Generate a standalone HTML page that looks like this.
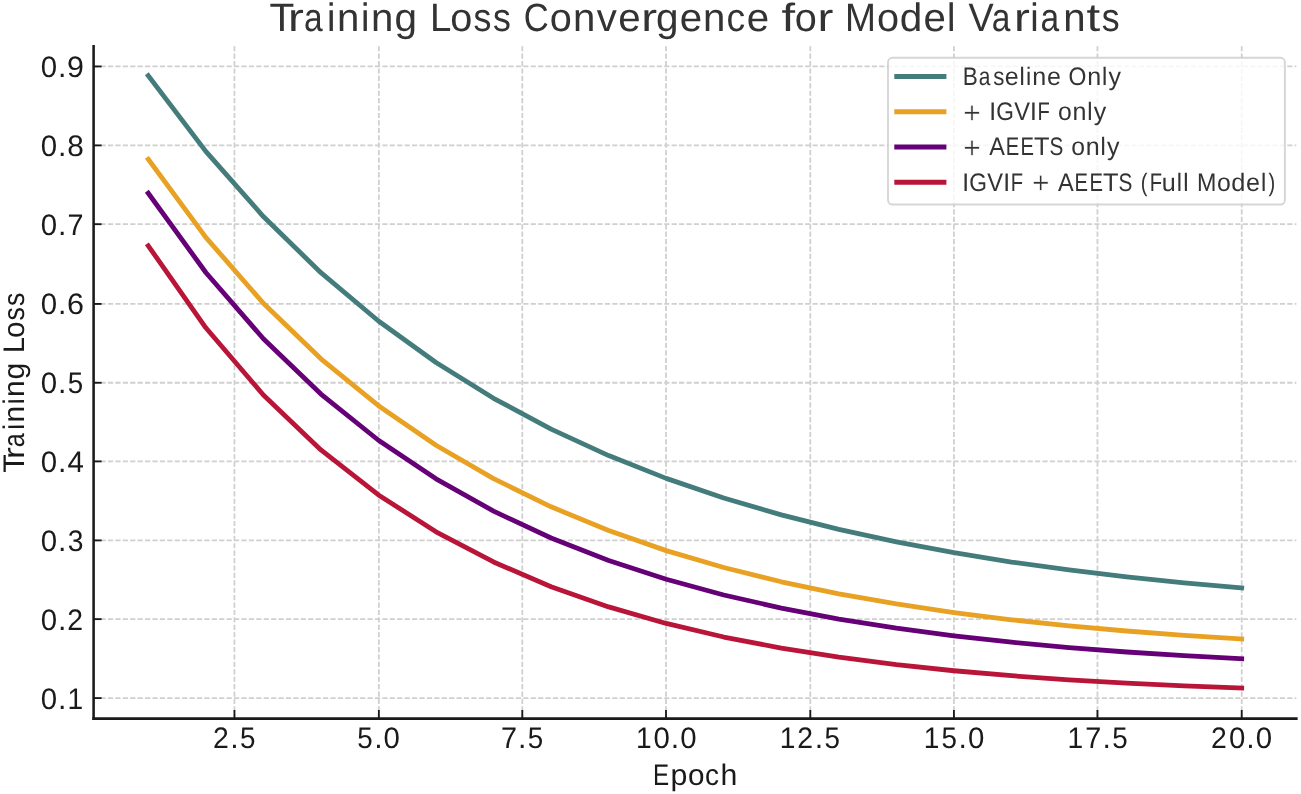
<!DOCTYPE html><html><head><meta charset="utf-8"><style>html,body{margin:0;padding:0;background:#fff;}svg{display:block;will-change:transform;}text{font-family:"Liberation Sans",sans-serif;}</style></head><body>
<svg width="1301" height="794" viewBox="0 0 1301 794">
<rect width="1301" height="794" fill="#fff"/>
<g stroke="#d0d0d0" stroke-width="1.8" stroke-dasharray="5.177 2.24" stroke-dashoffset="0.5" fill="none"><line x1="93.6" y1="698.1" x2="1296.36" y2="698.1"/><line x1="93.6" y1="619.14" x2="1296.36" y2="619.14"/><line x1="93.6" y1="540.4" x2="1296.36" y2="540.4"/><line x1="93.6" y1="461.4" x2="1296.36" y2="461.4"/><line x1="93.6" y1="382.76" x2="1296.36" y2="382.76"/><line x1="93.6" y1="303.94" x2="1296.36" y2="303.94"/><line x1="93.6" y1="224.19" x2="1296.36" y2="224.19"/><line x1="93.6" y1="145.4" x2="1296.36" y2="145.4"/><line x1="93.6" y1="66.46" x2="1296.36" y2="66.46"/></g>
<g stroke="#d0d0d0" stroke-width="1.8" stroke-dasharray="5.177 2.24" stroke-dashoffset="0.3" fill="none"><line x1="234.45" y1="718.6" x2="234.45" y2="46.3"/><line x1="378.85" y1="718.6" x2="378.85" y2="46.3"/><line x1="522.3" y1="718.6" x2="522.3" y2="46.3"/><line x1="666" y1="718.6" x2="666" y2="46.3"/><line x1="810.3" y1="718.6" x2="810.3" y2="46.3"/><line x1="953.93" y1="718.6" x2="953.93" y2="46.3"/><line x1="1097.45" y1="718.6" x2="1097.45" y2="46.3"/><line x1="1241.72" y1="718.6" x2="1241.72" y2="46.3"/></g>
<polyline points="148.27,75.7 205.82,151.42 263.37,216.59 320.92,272.69 378.47,320.97 436.01,362.52 493.56,398.29 551.11,429.07 608.66,455.57 666.21,478.38 723.75,498.01 781.3,514.9 838.85,529.44 896.4,541.96 953.95,552.73 1011.49,562.01 1069.04,569.99 1126.59,576.86 1184.14,582.77 1241.68,587.86" fill="none" stroke="#447c7c" stroke-width="4.8" stroke-linecap="square" stroke-linejoin="round"/>
<polyline points="148.27,159.24 205.82,237.33 263.37,303.22 320.92,358.81 378.47,405.7 436.01,445.27 493.56,478.64 551.11,506.81 608.66,530.56 666.21,550.61 723.75,567.52 781.3,581.78 838.85,593.82 896.4,603.98 953.95,612.54 1011.49,619.77 1069.04,625.87 1126.59,631.01 1184.14,635.35 1241.68,639.01" fill="none" stroke="#e8a122" stroke-width="4.8" stroke-linecap="square" stroke-linejoin="round"/>
<polyline points="148.27,193.19 205.82,272.48 263.37,338.72 320.92,394.04 378.47,440.25 436.01,478.85 493.56,511.09 551.11,538.02 608.66,560.51 666.21,579.3 723.75,594.99 781.3,608.1 838.85,619.05 896.4,628.19 953.95,635.83 1011.49,642.21 1069.04,647.54 1126.59,651.99 1184.14,655.71 1241.68,658.82" fill="none" stroke="#660077" stroke-width="4.8" stroke-linecap="square" stroke-linejoin="round"/>
<polyline points="148.27,245.79 205.82,327.81 263.37,394.96 320.92,449.94 378.47,494.95 436.01,531.8 493.56,561.97 551.11,586.67 608.66,606.9 666.21,623.46 723.75,637.02 781.3,648.12 838.85,657.2 896.4,664.64 953.95,670.74 1011.49,675.72 1069.04,679.81 1126.59,683.15 1184.14,685.89 1241.68,688.13" fill="none" stroke="#b91538" stroke-width="4.8" stroke-linecap="square" stroke-linejoin="round"/>
<g stroke="#1a1a1a" stroke-width="2.55" fill="none">
<line x1="93.6" y1="46.3" x2="93.6" y2="718.6" stroke-linecap="square"/>
<line x1="93.6" y1="718.6" x2="1296.36" y2="718.6" stroke-linecap="square"/>
</g>
<g stroke="#1a1a1a" stroke-width="1.85"><line x1="93.6" y1="698.1" x2="101.6" y2="698.1"/><line x1="93.6" y1="619.14" x2="101.6" y2="619.14"/><line x1="93.6" y1="540.4" x2="101.6" y2="540.4"/><line x1="93.6" y1="461.4" x2="101.6" y2="461.4"/><line x1="93.6" y1="382.76" x2="101.6" y2="382.76"/><line x1="93.6" y1="303.94" x2="101.6" y2="303.94"/><line x1="93.6" y1="224.19" x2="101.6" y2="224.19"/><line x1="93.6" y1="145.4" x2="101.6" y2="145.4"/><line x1="93.6" y1="66.46" x2="101.6" y2="66.46"/><line x1="234.45" y1="718.6" x2="234.45" y2="710"/><line x1="378.85" y1="718.6" x2="378.85" y2="710"/><line x1="522.3" y1="718.6" x2="522.3" y2="710"/><line x1="666" y1="718.6" x2="666" y2="710"/><line x1="810.3" y1="718.6" x2="810.3" y2="710"/><line x1="953.93" y1="718.6" x2="953.93" y2="710"/><line x1="1097.45" y1="718.6" x2="1097.45" y2="710"/><line x1="1241.72" y1="718.6" x2="1241.72" y2="710"/></g>
<rect x="888" y="57.8" width="396.9" height="146.75" rx="4.5" ry="4.5" fill="#fff" fill-opacity="0.8" stroke="#cccccc" stroke-opacity="0.8" stroke-width="1.9"/>
<line x1="896.8" y1="76.6" x2="943.9" y2="76.6" stroke="#447c7c" stroke-width="5.0" stroke-linecap="square"/>
<line x1="896.8" y1="111.8" x2="943.9" y2="111.8" stroke="#e8a122" stroke-width="5.0" stroke-linecap="square"/>
<line x1="896.8" y1="146.96" x2="943.9" y2="146.96" stroke="#660077" stroke-width="5.0" stroke-linecap="square"/>
<line x1="896.8" y1="182.24" x2="943.9" y2="182.24" stroke="#b91538" stroke-width="5.0" stroke-linecap="square"/>
<text transform="translate(0 31.05) skewX(0.1)" font-size="39.535" fill="#333333"><tspan x="269.49" y="0" textLength="24.86" lengthAdjust="spacingAndGlyphs">T</tspan><tspan x="288.02" y="0" textLength="15.92" lengthAdjust="spacingAndGlyphs">r</tspan><tspan x="303.96" y="0" textLength="18.66" lengthAdjust="spacingAndGlyphs">a</tspan><tspan x="326.98" y="0" textLength="8.48" lengthAdjust="spacingAndGlyphs">i</tspan><tspan x="337.1" y="0" textLength="22.38" lengthAdjust="spacingAndGlyphs">n</tspan><tspan x="361.01" y="0" textLength="8.48" lengthAdjust="spacingAndGlyphs">i</tspan><tspan x="371.13" y="0" textLength="22.38" lengthAdjust="spacingAndGlyphs">n</tspan><tspan x="394.42" y="0" textLength="22.56" lengthAdjust="spacingAndGlyphs">g</tspan> <tspan x="430.13" y="0" textLength="21.36" lengthAdjust="spacingAndGlyphs">L</tspan><tspan x="450.15" y="0" textLength="22.07" lengthAdjust="spacingAndGlyphs">o</tspan><tspan x="473.62" y="0" textLength="17.89" lengthAdjust="spacingAndGlyphs">s</tspan><tspan x="493.07" y="0" textLength="17.89" lengthAdjust="spacingAndGlyphs">s</tspan> <tspan x="523.68" y="0" textLength="25.02" lengthAdjust="spacingAndGlyphs">C</tspan><tspan x="549.8" y="0" textLength="22.07" lengthAdjust="spacingAndGlyphs">o</tspan><tspan x="572.96" y="0" textLength="22.38" lengthAdjust="spacingAndGlyphs">n</tspan><tspan x="596.87" y="0" textLength="20.14" lengthAdjust="spacingAndGlyphs">v</tspan><tspan x="618.33" y="0" textLength="22.42" lengthAdjust="spacingAndGlyphs">e</tspan><tspan x="641.16" y="0" textLength="15.92" lengthAdjust="spacingAndGlyphs">r</tspan><tspan x="655.99" y="0" textLength="22.56" lengthAdjust="spacingAndGlyphs">g</tspan><tspan x="679.67" y="0" textLength="22.42" lengthAdjust="spacingAndGlyphs">e</tspan><tspan x="703.01" y="0" textLength="22.38" lengthAdjust="spacingAndGlyphs">n</tspan><tspan x="726.41" y="0" textLength="18.73" lengthAdjust="spacingAndGlyphs">c</tspan><tspan x="746.81" y="0" textLength="22.42" lengthAdjust="spacingAndGlyphs">e</tspan> <tspan x="781.45" y="0" textLength="13.62" lengthAdjust="spacingAndGlyphs">f</tspan><tspan x="794.82" y="0" textLength="22.07" lengthAdjust="spacingAndGlyphs">o</tspan><tspan x="817.48" y="0" textLength="15.92" lengthAdjust="spacingAndGlyphs">r</tspan> <tspan x="845.08" y="0" textLength="31" lengthAdjust="spacingAndGlyphs">M</tspan><tspan x="877.07" y="0" textLength="22.07" lengthAdjust="spacingAndGlyphs">o</tspan><tspan x="899.87" y="0" textLength="22.56" lengthAdjust="spacingAndGlyphs">d</tspan><tspan x="923.55" y="0" textLength="22.42" lengthAdjust="spacingAndGlyphs">e</tspan><tspan x="947.11" y="0" textLength="8.48" lengthAdjust="spacingAndGlyphs">l</tspan> <tspan x="968.52" y="0" textLength="25.26" lengthAdjust="spacingAndGlyphs">V</tspan><tspan x="991.85" y="0" textLength="18.66" lengthAdjust="spacingAndGlyphs">a</tspan><tspan x="1014.12" y="0" textLength="15.92" lengthAdjust="spacingAndGlyphs">r</tspan><tspan x="1030.21" y="0" textLength="8.48" lengthAdjust="spacingAndGlyphs">i</tspan><tspan x="1040.43" y="0" textLength="18.66" lengthAdjust="spacingAndGlyphs">a</tspan><tspan x="1063.21" y="0" textLength="22.38" lengthAdjust="spacingAndGlyphs">n</tspan><tspan x="1086.46" y="0" textLength="13.73" lengthAdjust="spacingAndGlyphs">t</tspan><tspan x="1101.81" y="0" textLength="17.89" lengthAdjust="spacingAndGlyphs">s</tspan></text>
<text transform="translate(0 784.8) skewX(0.1)" font-size="29.651" fill="#1a1a1a"><tspan x="653.01" y="0" textLength="16.16" lengthAdjust="spacingAndGlyphs">E</tspan><tspan x="670.5" y="0" textLength="16.92" lengthAdjust="spacingAndGlyphs">p</tspan><tspan x="687.97" y="0" textLength="16.53" lengthAdjust="spacingAndGlyphs">o</tspan><tspan x="705.13" y="0" textLength="14.03" lengthAdjust="spacingAndGlyphs">c</tspan><tspan x="720.59" y="0" textLength="16.88" lengthAdjust="spacingAndGlyphs">h</tspan></text>
<text transform="translate(24.3 472.2) rotate(-90) skewX(0.1)" font-size="29.797" fill="#1a1a1a"><tspan x="-0.68" y="0" textLength="18.57" lengthAdjust="spacingAndGlyphs">T</tspan><tspan x="13.16" y="0" textLength="11.89" lengthAdjust="spacingAndGlyphs">r</tspan><tspan x="25.07" y="0" textLength="13.94" lengthAdjust="spacingAndGlyphs">a</tspan><tspan x="42.26" y="0" textLength="6.33" lengthAdjust="spacingAndGlyphs">i</tspan><tspan x="49.82" y="0" textLength="16.71" lengthAdjust="spacingAndGlyphs">n</tspan><tspan x="67.67" y="0" textLength="6.33" lengthAdjust="spacingAndGlyphs">i</tspan><tspan x="75.23" y="0" textLength="16.71" lengthAdjust="spacingAndGlyphs">n</tspan><tspan x="92.63" y="0" textLength="16.85" lengthAdjust="spacingAndGlyphs">g</tspan> <tspan x="119.3" y="0" textLength="15.95" lengthAdjust="spacingAndGlyphs">L</tspan><tspan x="134.25" y="0" textLength="16.48" lengthAdjust="spacingAndGlyphs">o</tspan><tspan x="151.78" y="0" textLength="13.36" lengthAdjust="spacingAndGlyphs">s</tspan><tspan x="166.31" y="0" textLength="13.36" lengthAdjust="spacingAndGlyphs">s</tspan></text>
<text transform="translate(0 708.65) skewX(0.1)" font-size="29.651" fill="#1a1a1a"><tspan x="40.67" y="0" textLength="16.41" lengthAdjust="spacingAndGlyphs">0</tspan><tspan x="58.02" y="0" textLength="8.42" lengthAdjust="spacingAndGlyphs">.</tspan><tspan x="67.62" y="0" textLength="15.68" lengthAdjust="spacingAndGlyphs">1</tspan></text>
<text transform="translate(0 629.7) skewX(0.1)" font-size="29.651" fill="#1a1a1a"><tspan x="40.67" y="0" textLength="16.41" lengthAdjust="spacingAndGlyphs">0</tspan><tspan x="58.02" y="0" textLength="8.42" lengthAdjust="spacingAndGlyphs">.</tspan><tspan x="67.31" y="0" textLength="15.82" lengthAdjust="spacingAndGlyphs">2</tspan></text>
<text transform="translate(0 550.75) skewX(0.1)" font-size="29.651" fill="#1a1a1a"><tspan x="40.67" y="0" textLength="16.41" lengthAdjust="spacingAndGlyphs">0</tspan><tspan x="58.02" y="0" textLength="8.42" lengthAdjust="spacingAndGlyphs">.</tspan><tspan x="67.75" y="0" textLength="15.77" lengthAdjust="spacingAndGlyphs">3</tspan></text>
<text transform="translate(0 471.81) skewX(0.1)" font-size="29.651" fill="#1a1a1a"><tspan x="40.67" y="0" textLength="16.41" lengthAdjust="spacingAndGlyphs">0</tspan><tspan x="58.02" y="0" textLength="8.42" lengthAdjust="spacingAndGlyphs">.</tspan><tspan x="67.39" y="0" textLength="16.42" lengthAdjust="spacingAndGlyphs">4</tspan></text>
<text transform="translate(0 392.86) skewX(0.1)" font-size="29.651" fill="#1a1a1a"><tspan x="40.67" y="0" textLength="16.41" lengthAdjust="spacingAndGlyphs">0</tspan><tspan x="58.02" y="0" textLength="8.42" lengthAdjust="spacingAndGlyphs">.</tspan><tspan x="67.74" y="0" textLength="15.49" lengthAdjust="spacingAndGlyphs">5</tspan></text>
<text transform="translate(0 313.91) skewX(0.1)" font-size="29.651" fill="#1a1a1a"><tspan x="40.67" y="0" textLength="16.41" lengthAdjust="spacingAndGlyphs">0</tspan><tspan x="58.02" y="0" textLength="8.42" lengthAdjust="spacingAndGlyphs">.</tspan><tspan x="67.1" y="0" textLength="16.99" lengthAdjust="spacingAndGlyphs">6</tspan></text>
<text transform="translate(0 234.97) skewX(0.1)" font-size="29.651" fill="#1a1a1a"><tspan x="40.67" y="0" textLength="16.41" lengthAdjust="spacingAndGlyphs">0</tspan><tspan x="58.02" y="0" textLength="8.42" lengthAdjust="spacingAndGlyphs">.</tspan><tspan x="67.51" y="0" textLength="16.06" lengthAdjust="spacingAndGlyphs">7</tspan></text>
<text transform="translate(0 156.02) skewX(0.1)" font-size="29.651" fill="#1a1a1a"><tspan x="40.67" y="0" textLength="16.41" lengthAdjust="spacingAndGlyphs">0</tspan><tspan x="58.02" y="0" textLength="8.42" lengthAdjust="spacingAndGlyphs">.</tspan><tspan x="67.3" y="0" textLength="16.59" lengthAdjust="spacingAndGlyphs">8</tspan></text>
<text transform="translate(0 77.07) skewX(0.1)" font-size="29.651" fill="#1a1a1a"><tspan x="40.67" y="0" textLength="16.41" lengthAdjust="spacingAndGlyphs">0</tspan><tspan x="58.02" y="0" textLength="8.42" lengthAdjust="spacingAndGlyphs">.</tspan><tspan x="67.03" y="0" textLength="16.95" lengthAdjust="spacingAndGlyphs">9</tspan></text>
<text transform="translate(0 748.2) skewX(0.1)" font-size="29.651" fill="#1a1a1a"><tspan x="212.95" y="0" textLength="15.82" lengthAdjust="spacingAndGlyphs">2</tspan><tspan x="230.37" y="0" textLength="8.42" lengthAdjust="spacingAndGlyphs">.</tspan><tspan x="240.09" y="0" textLength="15.49" lengthAdjust="spacingAndGlyphs">5</tspan></text>
<text transform="translate(0 748.2) skewX(0.1)" font-size="29.651" fill="#1a1a1a"><tspan x="357.25" y="0" textLength="15.49" lengthAdjust="spacingAndGlyphs">5</tspan><tspan x="374.24" y="0" textLength="8.42" lengthAdjust="spacingAndGlyphs">.</tspan><tspan x="383.61" y="0" textLength="16.41" lengthAdjust="spacingAndGlyphs">0</tspan></text>
<text transform="translate(0 748.2) skewX(0.1)" font-size="29.651" fill="#1a1a1a"><tspan x="500.89" y="0" textLength="16.06" lengthAdjust="spacingAndGlyphs">7</tspan><tspan x="518.11" y="0" textLength="8.42" lengthAdjust="spacingAndGlyphs">.</tspan><tspan x="527.83" y="0" textLength="15.49" lengthAdjust="spacingAndGlyphs">5</tspan></text>
<text transform="translate(0 748.2) skewX(0.1)" font-size="29.651" fill="#1a1a1a"><tspan x="635.96" y="0" textLength="15.68" lengthAdjust="spacingAndGlyphs">1</tspan><tspan x="653.54" y="0" textLength="16.41" lengthAdjust="spacingAndGlyphs">0</tspan><tspan x="670.89" y="0" textLength="8.42" lengthAdjust="spacingAndGlyphs">.</tspan><tspan x="680.25" y="0" textLength="16.41" lengthAdjust="spacingAndGlyphs">0</tspan></text>
<text transform="translate(0 748.2) skewX(0.1)" font-size="29.651" fill="#1a1a1a"><tspan x="779.83" y="0" textLength="15.68" lengthAdjust="spacingAndGlyphs">1</tspan><tspan x="797.34" y="0" textLength="15.82" lengthAdjust="spacingAndGlyphs">2</tspan><tspan x="814.76" y="0" textLength="8.42" lengthAdjust="spacingAndGlyphs">.</tspan><tspan x="824.48" y="0" textLength="15.49" lengthAdjust="spacingAndGlyphs">5</tspan></text>
<text transform="translate(0 748.2) skewX(0.1)" font-size="29.651" fill="#1a1a1a"><tspan x="923.7" y="0" textLength="15.68" lengthAdjust="spacingAndGlyphs">1</tspan><tspan x="941.63" y="0" textLength="15.49" lengthAdjust="spacingAndGlyphs">5</tspan><tspan x="958.63" y="0" textLength="8.42" lengthAdjust="spacingAndGlyphs">.</tspan><tspan x="968" y="0" textLength="16.41" lengthAdjust="spacingAndGlyphs">0</tspan></text>
<text transform="translate(0 748.2) skewX(0.1)" font-size="29.651" fill="#1a1a1a"><tspan x="1067.57" y="0" textLength="15.68" lengthAdjust="spacingAndGlyphs">1</tspan><tspan x="1085.27" y="0" textLength="16.06" lengthAdjust="spacingAndGlyphs">7</tspan><tspan x="1102.5" y="0" textLength="8.42" lengthAdjust="spacingAndGlyphs">.</tspan><tspan x="1112.22" y="0" textLength="15.49" lengthAdjust="spacingAndGlyphs">5</tspan></text>
<text transform="translate(0 748.2) skewX(0.1)" font-size="29.651" fill="#1a1a1a"><tspan x="1211.13" y="0" textLength="15.82" lengthAdjust="spacingAndGlyphs">2</tspan><tspan x="1229.02" y="0" textLength="16.41" lengthAdjust="spacingAndGlyphs">0</tspan><tspan x="1246.37" y="0" textLength="8.42" lengthAdjust="spacingAndGlyphs">.</tspan><tspan x="1255.73" y="0" textLength="16.41" lengthAdjust="spacingAndGlyphs">0</tspan></text>
<text transform="translate(0 84.9) skewX(0.1)" font-size="25.291" fill="#333333"><tspan x="962.75" y="0" textLength="15.08" lengthAdjust="spacingAndGlyphs">B</tspan><tspan x="978.79" y="0" textLength="11.64" lengthAdjust="spacingAndGlyphs">a</tspan><tspan x="993.18" y="0" textLength="11.15" lengthAdjust="spacingAndGlyphs">s</tspan><tspan x="1004.88" y="0" textLength="13.98" lengthAdjust="spacingAndGlyphs">e</tspan><tspan x="1019.58" y="0" textLength="5.29" lengthAdjust="spacingAndGlyphs">l</tspan><tspan x="1026.06" y="0" textLength="5.29" lengthAdjust="spacingAndGlyphs">i</tspan><tspan x="1032.37" y="0" textLength="13.96" lengthAdjust="spacingAndGlyphs">n</tspan><tspan x="1046.89" y="0" textLength="13.98" lengthAdjust="spacingAndGlyphs">e</tspan> <tspan x="1068.6" y="0" textLength="17.89" lengthAdjust="spacingAndGlyphs">O</tspan><tspan x="1087.15" y="0" textLength="13.96" lengthAdjust="spacingAndGlyphs">n</tspan><tspan x="1102.04" y="0" textLength="5.29" lengthAdjust="spacingAndGlyphs">l</tspan><tspan x="1108.55" y="0" textLength="12.5" lengthAdjust="spacingAndGlyphs">y</tspan></text>
<text transform="translate(0 120.1) skewX(0.1)" font-size="25.291" fill="#333333"><tspan x="963.23" y="2.7" textLength="17.53" lengthAdjust="spacingAndGlyphs" font-size="30.675" stroke="#fff" stroke-width="0.55">+</tspan> <tspan x="989.17" y="0" textLength="6.85" lengthAdjust="spacingAndGlyphs">I</tspan><tspan x="996.2" y="0" textLength="17.68" lengthAdjust="spacingAndGlyphs">G</tspan><tspan x="1014.17" y="0" textLength="15.77" lengthAdjust="spacingAndGlyphs">V</tspan><tspan x="1030.04" y="0" textLength="6.85" lengthAdjust="spacingAndGlyphs">I</tspan><tspan x="1037.46" y="0" textLength="12.36" lengthAdjust="spacingAndGlyphs">F</tspan> <tspan x="1057.95" y="0" textLength="13.78" lengthAdjust="spacingAndGlyphs">o</tspan><tspan x="1072.41" y="0" textLength="13.97" lengthAdjust="spacingAndGlyphs">n</tspan><tspan x="1087.32" y="0" textLength="5.29" lengthAdjust="spacingAndGlyphs">l</tspan><tspan x="1093.84" y="0" textLength="12.51" lengthAdjust="spacingAndGlyphs">y</tspan></text>
<text transform="translate(0 155.1) skewX(0.1)" font-size="25.291" fill="#333333"><tspan x="963.23" y="2.7" textLength="17.54" lengthAdjust="spacingAndGlyphs" font-size="30.675" stroke="#fff" stroke-width="0.55">+</tspan> <tspan x="989.3" y="0" textLength="15.66" lengthAdjust="spacingAndGlyphs">A</tspan><tspan x="1005.73" y="0" textLength="13.49" lengthAdjust="spacingAndGlyphs">E</tspan><tspan x="1020.45" y="0" textLength="13.49" lengthAdjust="spacingAndGlyphs">E</tspan><tspan x="1033.92" y="0" textLength="15.53" lengthAdjust="spacingAndGlyphs">T</tspan><tspan x="1049.39" y="0" textLength="13.86" lengthAdjust="spacingAndGlyphs">S</tspan> <tspan x="1071.24" y="0" textLength="13.78" lengthAdjust="spacingAndGlyphs">o</tspan><tspan x="1085.7" y="0" textLength="13.97" lengthAdjust="spacingAndGlyphs">n</tspan><tspan x="1100.62" y="0" textLength="5.29" lengthAdjust="spacingAndGlyphs">l</tspan><tspan x="1107.13" y="0" textLength="12.51" lengthAdjust="spacingAndGlyphs">y</tspan></text>
<text transform="translate(0 190.5) skewX(0.1)" font-size="25.291" fill="#333333"><tspan x="962.22" y="0" textLength="6.87" lengthAdjust="spacingAndGlyphs">I</tspan><tspan x="969.27" y="0" textLength="17.73" lengthAdjust="spacingAndGlyphs">G</tspan><tspan x="987.29" y="0" textLength="15.82" lengthAdjust="spacingAndGlyphs">V</tspan><tspan x="1003.22" y="0" textLength="6.87" lengthAdjust="spacingAndGlyphs">I</tspan><tspan x="1010.69" y="0" textLength="12.36" lengthAdjust="spacingAndGlyphs">F</tspan> <tspan x="1031.99" y="2.7" textLength="17.59" lengthAdjust="spacingAndGlyphs" font-size="30.675" stroke="#fff" stroke-width="0.55">+</tspan> <tspan x="1058.13" y="0" textLength="15.71" lengthAdjust="spacingAndGlyphs">A</tspan><tspan x="1074.62" y="0" textLength="13.51" lengthAdjust="spacingAndGlyphs">E</tspan><tspan x="1089.39" y="0" textLength="13.51" lengthAdjust="spacingAndGlyphs">E</tspan><tspan x="1102.89" y="0" textLength="15.57" lengthAdjust="spacingAndGlyphs">T</tspan><tspan x="1118.41" y="0" textLength="13.9" lengthAdjust="spacingAndGlyphs">S</tspan> <tspan x="1140.77" y="0" textLength="6.74" lengthAdjust="spacingAndGlyphs">(</tspan><tspan x="1149.79" y="0" textLength="12.36" lengthAdjust="spacingAndGlyphs">F</tspan><tspan x="1161.71" y="0" textLength="14.02" lengthAdjust="spacingAndGlyphs">u</tspan><tspan x="1176.77" y="0" textLength="5.31" lengthAdjust="spacingAndGlyphs">l</tspan><tspan x="1183.27" y="0" textLength="5.31" lengthAdjust="spacingAndGlyphs">l</tspan> <tspan x="1196.98" y="0" textLength="19.42" lengthAdjust="spacingAndGlyphs">M</tspan><tspan x="1217.02" y="0" textLength="13.82" lengthAdjust="spacingAndGlyphs">o</tspan><tspan x="1231.3" y="0" textLength="14.13" lengthAdjust="spacingAndGlyphs">d</tspan><tspan x="1246.13" y="0" textLength="14.04" lengthAdjust="spacingAndGlyphs">e</tspan><tspan x="1260.89" y="0" textLength="5.31" lengthAdjust="spacingAndGlyphs">l</tspan><tspan x="1268.48" y="0" textLength="6.74" lengthAdjust="spacingAndGlyphs">)</tspan></text>
</svg></body></html>
